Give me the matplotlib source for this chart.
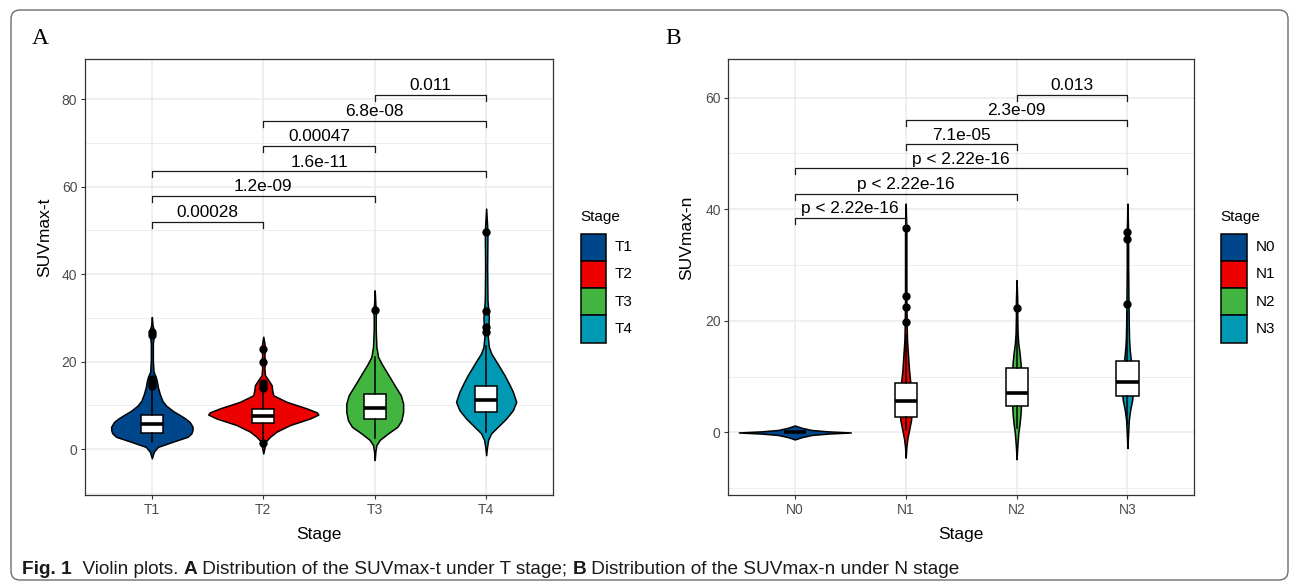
import numpy as np
import matplotlib
matplotlib.use("Agg")
import matplotlib.pyplot as plt
import matplotlib.transforms as mtransforms
from matplotlib.patches import Rectangle, FancyBboxPatch

plt.rcParams['font.family'] = ['Liberation Sans', 'DejaVu Sans']

W, H = 1296, 586

# ── data ─────────────────────────────────────────────────────────
T_STAGES = ['T1', 'T2', 'T3', 'T4']
N_STAGES = ['N0', 'N1', 'N2', 'N3']
LANCET = ['#00468B', '#ED0000', '#42B540', '#0099B4']

# violin outlines: y level -> half width (x units)
T1_Y = [-2.1, -0.6, 0.5, 1.7, 2.8, 3.6, 4.4, 5.1, 6.2, 7.0, 7.8, 8.7, 9.9, 11.0,
        12.7, 14.2, 15.5, 16.5, 17.7, 20.3, 24.2, 25.5, 26.4, 27.5, 28.3, 30.2]
T1_W = [0, .018, .054, .19, .32, .355, .365, .365, .34, .30, .25, .19, .13, .095,
        .07, .054, .045, .035, .015, .009, .009, .015, .02, .015, .006, 0]
T2_Y = [-1.0, 0.5, 1.7, 2.8, 4.0, 5.5, 7.0, 7.9, 8.4, 9.3, 10.8, 12.3, 13.5, 14.6,
        15.8, 16.9, 18.5, 20.1, 21.5, 23.2, 24.5, 25.7]
T2_W = [0, .012, .02, .06, .12, .24, .42, .494, .48, .39, .21, .09, .08, .075,
        .045, .015, .01, .015, .01, .015, .008, 0]
T3_Y = [-2.5, -0.5, 0.9, 2.1, 3.6, 5.1, 6.6, 8.5, 10.4, 12.3, 13.9, 15.8, 17.7,
        19.6, 21.1, 23.4, 27.2, 30.5, 31.8, 33.0, 36.3]
T3_W = [0, .006, .015, .045, .12, .204, .24, .255, .255, .234, .195, .15, .105,
        .06, .03, .015, .009, .009, .015, .006, 0]
T4_Y = [-1.4, 0.5, 2.1, 3.6, 5.1, 7.0, 8.9, 10.8, 13.1, 15.0, 16.9, 18.8, 20.3,
        21.9, 23.4, 25.7, 27.5, 30.2, 34.1, 41.7, 49.7, 55.0]
T4_W = [0, .008, .018, .045, .105, .18, .24, .27, .24, .204, .165, .12, .084,
        .045, .024, .015, .02, .024, .012, .009, .012, 0]

N0_Y = [-1.25, -0.85, -0.45, -0.2, 0, 0.2, 0.45, 0.85, 1.25]
N0_W = [0, .06, .15, .3, .505, .3, .15, .06, 0]
N1_Y = [-4.5, -2.6, -1.1, 0.4, 2.2, 4.0, 5.8, 7.6, 9.4, 11.2, 12.9, 14.7, 16.5,
        18.9, 23.7, 29.7, 35.6, 41.0]
N1_W = [0, .006, .015, .03, .048, .057, .06, .054, .039, .03, .024, .018, .012,
        .009, .006, .006, .006, 0]
N2_Y = [-4.8, -2.6, -0.2, 1.6, 3.4, 5.8, 8.2, 10.6, 12.4, 14.2, 16.0, 17.8, 20.8,
        23.7, 27.3]
N2_W = [0, .006, .015, .027, .036, .042, .045, .042, .036, .027, .015, .009, .006,
        .006, 0]
N3_Y = [-2.8, -0.2, 2.2, 4.0, 5.8, 7.6, 9.4, 11.2, 13.0, 14.7, 16.5, 18.9, 23.7,
        29.7, 35.6, 41.0]
N3_W = [0, .006, .012, .024, .042, .051, .054, .048, .03, .021, .015, .012, .009,
        .006, .006, 0]

# boxplot summaries
T_MED = [5.7, 7.6, 9.4, 11.2]
T_Q1 = [3.7, 6.0, 6.8, 8.5]
T_Q3 = [7.8, 9.1, 12.5, 14.5]
T_WLO = [1.7, 2.2, 2.5, 3.9]
T_WHI = [13.9, 13.5, 21.0, 23.5]
T_OUT = [[14.5, 15.2, 16.0, 26.0, 26.8], [1.4, 14.0, 14.6, 15.1, 20.0, 23.0],
         [31.8], [26.8, 28.0, 31.5, 49.7]]

N_MED = [0.0, 5.6, 7.1, 9.1]
N_Q1 = [0.0, 2.7, 4.8, 6.6]
N_Q3 = [0.0, 8.8, 11.6, 12.8]
N_WLO = [0.0, 0.5, 0.8, 1.5]
N_WHI = [0.0, 17.5, 21.5, 21.5]
N_OUT = [[], [19.7, 22.5, 24.4, 36.6], [22.3], [23.0, 34.7, 35.9]]

# pairwise comparisons
PAIRS = [(0, 1), (0, 2), (0, 3), (1, 2), (1, 3), (2, 3)]
T_PVAL = ['0.00028', '1.2e-09', '1.6e-11', '0.00047', '6.8e-08', '0.011']
T_BRACKET_Y = [52.0, 57.8, 63.5, 69.3, 75.1, 81.0]
N_PVAL = ['p < 2.22e-16', 'p < 2.22e-16', 'p < 2.22e-16', '7.1e-05', '2.3e-09', '0.013']
N_BRACKET_Y = [38.4, 42.8, 47.3, 51.6, 56.0, 60.4]


# ── helpers ──────────────────────────────────────────────────────
fig = plt.figure(figsize=(W / 100, H / 100), dpi=100)
fig.patch.set_facecolor('white')
# pixel coords measured from the top-left corner
PX = mtransforms.Affine2D().scale(1 / W, -1 / H).translate(0, 1) + fig.transFigure


def style_axes(ax, cats, ylim, major, minor):
    ax.set_xlim(0.4, 4.6)
    ax.set_ylim(*ylim)
    ax.set_xticks(range(1, 5))
    ax.set_xticklabels(cats)
    ax.set_yticks(major)
    ax.set_yticks(minor, minor=True)
    ax.grid(which='major', color='#EBEBEB', lw=1.1)
    ax.grid(which='minor', axis='y', color='#EBEBEB', lw=0.6)
    ax.set_axisbelow(True)
    for s in ax.spines.values():
        s.set_color('#333333')
        s.set_linewidth(0.9)
    ax.tick_params(which='major', length=3, width=0.8, color='#333333',
                   labelcolor='#4D4D4D', labelsize=10, pad=2.5)
    ax.tick_params(which='minor', length=0)


def draw_violins(ax, profiles):
    for k, (ys, ws) in enumerate(profiles):
        ys, ws = np.asarray(ys), np.asarray(ws)
        ax.fill_betweenx(ys, k + 1 - ws, k + 1 + ws, facecolor=LANCET[k],
                         edgecolor='black', lw=1.1, zorder=2)


def draw_boxes(ax, med, q1, q3, wlo, whi, out):
    stats = [dict(med=m, q1=a, q3=b, whislo=lo, whishi=hi, fliers=f)
             for m, a, b, lo, hi, f in zip(med, q1, q3, wlo, whi, out)]
    ax.bxp(stats, positions=[1, 2, 3, 4], widths=0.2, patch_artist=True,
           showcaps=False, manage_ticks=False,
           boxprops=dict(facecolor='white', edgecolor='black', lw=1.1),
           medianprops=dict(color='black', lw=2.6, solid_capstyle='butt'),
           whiskerprops=dict(color='black', lw=1.1),
           flierprops=dict(marker='o', markerfacecolor='black',
                           markeredgecolor='black', markersize=5),
           zorder=3)


def draw_brackets(ax, labels, ys, tick):
    for (i, j), lab, yb in zip(PAIRS, labels, ys):
        ax.plot([i + 1, i + 1, j + 1, j + 1], [yb - tick, yb, yb, yb - tick],
                color='#1a1a1a', lw=0.9, zorder=4)
        ax.annotate(lab, xy=((i + j) / 2 + 1, yb), xytext=(0, 3.5),
                    textcoords='offset points', ha='center', va='baseline',
                    fontsize=12.4, color='black', zorder=5)


def draw_legend(x0, y0, cats):
    fig.text(x0, y0, 'Stage', transform=PX, fontsize=11, ha='left', va='baseline')
    for k, c in enumerate(cats):
        top = y0 + 12.5 + k * 27.3
        fig.add_artist(Rectangle((x0 + 0.5, top + 27.3), 25.5, -27.3, transform=PX,
                                 facecolor=LANCET[k], edgecolor='black', lw=1.1))
        fig.text(x0 + 35, top + 13.6, c, transform=PX, fontsize=11,
                 ha='left', va='center')


# ── panel A ──────────────────────────────────────────────────────
axA = fig.add_axes([85 / W, 1 - 495 / H, 468 / W, 436 / H])
style_axes(axA, T_STAGES, (-10.5, 89.2), [0, 20, 40, 60, 80], [-10, 10, 30, 50, 70])
draw_violins(axA, [(T1_Y, T1_W), (T2_Y, T2_W), (T3_Y, T3_W), (T4_Y, T4_W)])
draw_boxes(axA, T_MED, T_Q1, T_Q3, T_WLO, T_WHI, T_OUT)
draw_brackets(axA, T_PVAL, T_BRACKET_Y, 1.37)
axA.set_xlabel('Stage', fontsize=12.5, labelpad=7.5)
axA.set_ylabel('SUVmax-t', fontsize=12.5)
axA.yaxis.set_label_coords(-0.071, 0.59)

# ── panel B ──────────────────────────────────────────────────────
axB = fig.add_axes([728.3 / W, 1 - 495 / H, 465.7 / W, 436 / H])
style_axes(axB, N_STAGES, (-11.2, 66.9), [0, 20, 40, 60], [-10, 10, 30, 50])
draw_violins(axB, [(N0_Y, N0_W), (N1_Y, N1_W), (N2_Y, N2_W), (N3_Y, N3_W)])
draw_boxes(axB, N_MED, N_Q1, N_Q3, N_WLO, N_WHI, N_OUT)
draw_brackets(axB, N_PVAL, N_BRACKET_Y, 1.07)
axB.set_xlabel('Stage', fontsize=12.5, labelpad=7.5)
axB.set_ylabel('SUVmax-n', fontsize=12.5)
axB.yaxis.set_label_coords(-0.073, 0.59)

draw_legend(580, 221, T_STAGES)
draw_legend(1220.5, 221, N_STAGES)

# panel letters
fig.text(40, 38, 'A', transform=PX, family='Liberation Serif', fontsize=17,
         ha='center', va='center')
fig.text(673, 38, 'B', transform=PX, family='Liberation Serif', fontsize=17,
         ha='center', va='center')

# outer frame
fig.add_artist(FancyBboxPatch((11, 10), 1277, 570, transform=PX,
                              boxstyle='round,pad=0,rounding_size=9',
                              facecolor='none', edgecolor='#6d6d6d', lw=1.0))

# caption, pieced together with mixed weights
renderer = fig.canvas.get_renderer()
pieces = [('Fig. 1', 'bold'), ('  Violin plots. ', 'normal'), ('A', 'bold'),
          (' Distribution of the SUVmax-t under T stage; ', 'normal'), ('B', 'bold'),
          (' Distribution of the SUVmax-n under N stage', 'normal')]
x = 22
for txt, wt in pieces:
    t = fig.text(x, 574, txt, transform=PX, fontsize=13.7, weight=wt,
                 ha='left', va='baseline', color='#1a1a1a')
    x += t.get_window_extent(renderer).width

fig.savefig('out.png', dpi=100, facecolor='white')
